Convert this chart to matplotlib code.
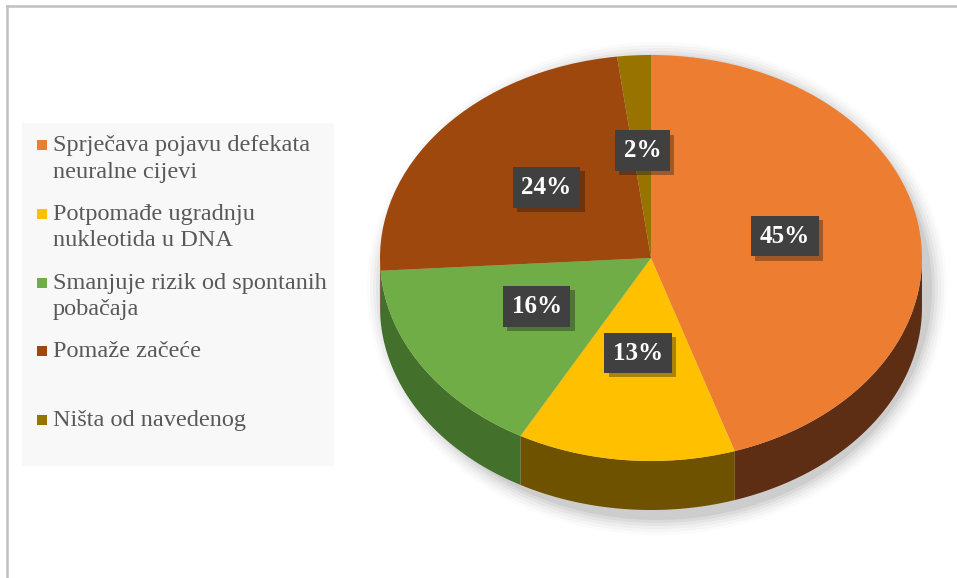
import numpy as np
import matplotlib.pyplot as plt
from matplotlib.patches import Polygon, Rectangle, Ellipse
from matplotlib.lines import Line2D
from matplotlib import transforms
import matplotlib.patheffects as pe

labels = ['Sprječava pojavu defekata\nneuralne cijevi',
          'Potpomađe ugradnju\nnukleotida u DNA',
          'Smanjuje rizik od spontanih\npobačaja',
          'Pomaže začeće',
          'Ništa od navedenog']
values = [45, 13, 16, 24, 2]
top_colors = ['#ED7D31', '#FFC000', '#70AD47', '#9E480E', '#997300']
side_colors = ['#5E2E14', '#6E5200', '#43702A', '#5A2A0A', '#5A4400']

W, H = 957, 578
fig = plt.figure(figsize=(W / 100, H / 100), dpi=100)
ax = fig.add_axes([0, 0, 1, 1])

cx, cy = 651, H - 258   # pie centre (data coords = pixels, y up)
R = 271                 # horizontal radius
k = 203 / 271           # vertical squash of the top face
depth = 49

# soft shadow under the pie
for i, a in enumerate(np.linspace(0.05, 0.015, 6)):
    ax.add_patch(Ellipse((cx + 6, cy - depth / 2 - 6), 2 * R + 8 + 6 * i,
                         2 * R * k + depth + 8 + 6 * i, fc='#000000',
                         ec='none', alpha=a, zorder=0))

wedges, _ = ax.pie(values, colors=top_colors, startangle=90, counterclock=False,
                   radius=R, center=(cx, cy),
                   wedgeprops=dict(linewidth=0))
squash = transforms.Affine2D().translate(-cx, -cy).scale(1, k).translate(cx, cy)
for w in wedges:
    w.set_transform(squash + ax.transData)
    w.set_zorder(3)

# visible side wall (lower half of the ellipse)
for w, sc in zip(wedges, side_colors):
    a, b = w.theta1, w.theta2
    for n in range(-2, 2):
        lo = max(a, 180 + 360 * n)
        hi = min(b, 360 + 360 * n)
        if lo >= hi:
            continue
        t = np.radians(np.linspace(lo, hi, 80))
        xs = cx + R * np.cos(t)
        ys = cy + R * k * np.sin(t)
        pts = np.column_stack([np.r_[xs, xs[::-1]], np.r_[ys, ys[::-1] - depth]])
        ax.add_patch(Polygon(pts, closed=True, fc=sc, ec='none', zorder=2))

# percentage labels
for w, v in zip(wedges, values):
    mid = np.radians((w.theta1 + w.theta2) / 2)
    lx = cx + 0.5 * R * np.cos(mid)
    ly = cy + 0.5 * R * k * np.sin(mid) + 6
    t = ax.text(lx, ly, f'{v}%', ha='center', va='center', fontsize=18,
                fontweight='bold', family='Liberation Serif', color='white',
                bbox=dict(boxstyle='square,pad=0.35', fc='#404040', ec='none'),
                zorder=5)
    t.get_bbox_patch().set_path_effects(
        [pe.SimplePatchShadow(offset=(3, -3), alpha=0.35), pe.Normal()])

# legend drawn by hand so markers sit on the first line
ax.add_patch(Rectangle((22, H - 466), 312, 343, fc='#F8F8F8', ec='none', zorder=1))
for i, (lab, c) in enumerate(zip(labels, top_colors)):
    yl = H - (145 + 68.8 * i)
    ax.add_patch(Rectangle((37, yl - 5), 10, 10, fc=c, ec='none', zorder=2))
    ax.text(53, yl + 10, lab, ha='left', va='top', fontsize=17.5,
            family='Liberation Serif', color='#595959', linespacing=1.35, zorder=2)

ax.set_xlim(0, W)
ax.set_ylim(0, H)
ax.set_aspect('auto')
ax.axis('off')

# outer frame (top and left edges)
fig.add_artist(Line2D([7 / W, 1], [1 - 6 / H, 1 - 6 / H], color='#C0C0C0', lw=1.8))
fig.add_artist(Line2D([7 / W, 7 / W], [0, 1 - 6 / H], color='#C0C0C0', lw=1.8))

fig.savefig('out.png', dpi=100, facecolor='white')
